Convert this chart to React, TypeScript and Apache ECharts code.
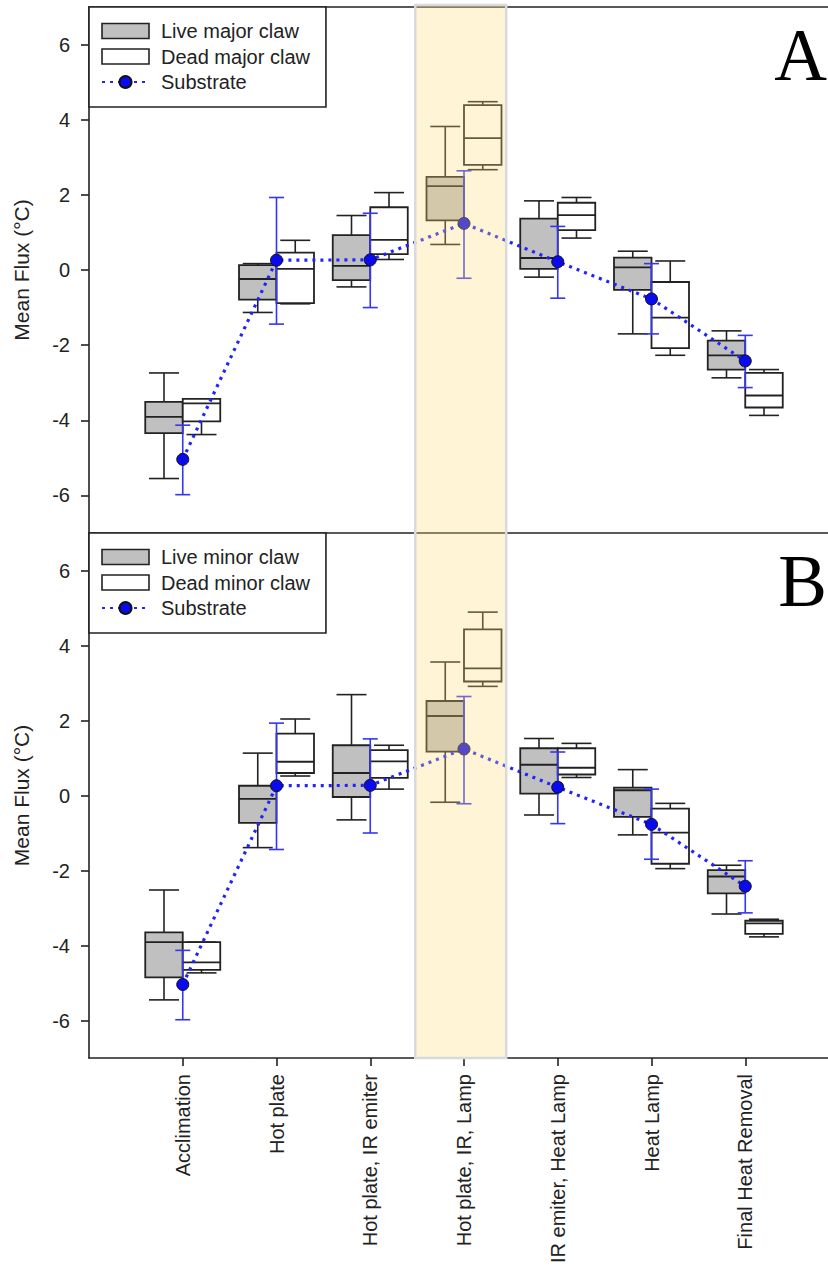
import React, { useEffect, useRef } from "react";
import * as echarts from "echarts";

const categories = [
  "Acclimation",
  "Hot plate",
  "Hot plate, IR emiter",
  "Hot plate, IR, Lamp",
  "IR emiter, Heat Lamp",
  "Heat Lamp",
  "Final Heat Removal",
];

// [min, q1, median, q3, max]
const liveMajor = [
  [-5.55, -4.34, -3.91, -3.51, -2.74],
  [-1.13, -0.79, -0.24, 0.13, 0.17],
  [-0.45, -0.27, 0.11, 0.93, 1.45],
  [0.68, 1.32, 2.23, 2.48, 3.82],
  [-0.19, 0.03, 0.32, 1.37, 1.84],
  [-1.7, -0.53, 0.07, 0.33, 0.5],
  [-2.87, -2.65, -2.27, -1.88, -1.62],
];
const deadMajor = [
  [-4.38, -4.03, -3.55, -3.43, -3.43],
  [-0.9, -0.88, 0.03, 0.46, 0.79],
  [0.28, 0.42, 0.8, 1.67, 2.06],
  [2.67, 2.8, 3.51, 4.39, 4.48],
  [0.85, 1.06, 1.46, 1.79, 1.93],
  [-2.27, -2.08, -1.27, -0.32, 0.24],
  [-3.87, -3.66, -3.34, -2.74, -2.65],
];
const liveMinor = [
  [-5.45, -4.85, -3.91, -3.65, -2.52],
  [-1.39, -0.73, -0.09, 0.26, 1.13],
  [-0.65, -0.04, 0.6, 1.34, 2.69],
  [-0.18, 1.17, 2.12, 2.52, 3.56],
  [-0.52, 0.05, 0.82, 1.26, 1.52],
  [-1.05, -0.57, 0.14, 0.21, 0.69],
  [-3.16, -2.61, -2.16, -1.99, -1.86],
];
const deadMinor = [
  [-4.73, -4.65, -4.45, -3.91, -3.91],
  [0.52, 0.6, 0.9, 1.65, 2.04],
  [0.17, 0.47, 0.91, 1.21, 1.34],
  [2.91, 3.04, 3.39, 4.43, 4.89],
  [0.48, 0.56, 0.74, 1.26, 1.39],
  [-1.95, -1.82, -0.99, -0.35, -0.21],
  [-3.77, -3.69, -3.41, -3.34, -3.3],
];

const substrateMean = [-5.04, 0.26, 0.27, 1.24, 0.22, -0.77, -2.42];
const substrateHigh = [-4.13, 1.93, 1.51, 2.64, 1.16, 0.17, -1.74];
const substrateLow = [-5.98, -1.44, -1.0, -0.22, -0.75, -1.7, -3.13];

const yTicks = [-6, -4, -2, 0, 2, 4, 6];
const xTicks = [1, 2, 3, 4, 5, 6, 7];
const highlightRange = [3.48, 4.45];

const FONT = "'Liberation Sans', Arial, sans-serif";
const SERIF = "'Liberation Serif', 'Times New Roman', serif";
const INK = "#222";
const BOX_W = 0.4;
const CAP_W = 0.32;
const ERR_CAP_W = 0.16;

function boxData(arr: number[][]) {
  return arr.map((b, i) => [i + 1, ...b]);
}

function makeBoxRenderer(fill: string, side: number) {
  return (params: any, api: any) => {
    const x = api.value(0);
    const mn = api.value(1);
    const q1 = api.value(2);
    const md = api.value(3);
    const q3 = api.value(4);
    const mx = api.value(5);
    const w = api.size([BOX_W, 0])[0];
    const capW = api.size([CAP_W, 0])[0];
    const cx = api.coord([x, 0])[0];
    const left = side < 0 ? cx - w : cx;
    const mid = left + w / 2;
    const y = (v: number) => api.coord([x, v])[1];
    const ls = { stroke: INK, lineWidth: 1.6 };
    return {
      type: "group",
      children: [
        { type: "line", shape: { x1: mid, y1: y(q3), x2: mid, y2: y(mx) }, style: ls },
        { type: "line", shape: { x1: mid, y1: y(q1), x2: mid, y2: y(mn) }, style: ls },
        { type: "line", shape: { x1: mid - capW / 2, y1: y(mx), x2: mid + capW / 2, y2: y(mx) }, style: ls },
        { type: "line", shape: { x1: mid - capW / 2, y1: y(mn), x2: mid + capW / 2, y2: y(mn) }, style: ls },
        {
          type: "rect",
          shape: { x: left, y: y(q3), width: w, height: y(q1) - y(q3) },
          style: { fill, stroke: INK, lineWidth: 1.8 },
        },
        { type: "line", shape: { x1: left, y1: y(md), x2: left + w, y2: y(md) }, style: { stroke: INK, lineWidth: 1.8 } },
      ],
    };
  };
}

const errData = substrateMean.map((m, i) => [i + 1, m, substrateLow[i], substrateHigh[i]]);

function renderErr(params: any, api: any) {
  const x = api.value(0);
  const lo = api.coord([x, api.value(2)]);
  const hi = api.coord([x, api.value(3)]);
  const cw = api.size([ERR_CAP_W, 0])[0];
  const st = { stroke: "#3535f5", lineWidth: 1.6 };
  return {
    type: "group",
    children: [
      { type: "line", shape: { x1: lo[0], y1: lo[1], x2: hi[0], y2: hi[1] }, style: st },
      { type: "line", shape: { x1: lo[0] - cw / 2, y1: lo[1], x2: lo[0] + cw / 2, y2: lo[1] }, style: st },
      { type: "line", shape: { x1: hi[0] - cw / 2, y1: hi[1], x2: hi[0] + cw / 2, y2: hi[1] }, style: st },
    ],
  };
}

function renderBand(params: any, api: any) {
  const a = api.coord([api.value(0), -7]);
  const b = api.coord([api.value(1), -7]);
  const panelH = api.size([0, 14])[1];
  const top = api.coord([api.value(0), 7])[1] - panelH - 3;
  return {
    type: "rect",
    shape: { x: a[0], y: top, width: b[0] - a[0], height: a[1] - top },
    style: { fill: "rgba(255, 218, 115, 0.3)", stroke: "#d9dae0", lineWidth: 2.5 },
  };
}

const axisLineStyle = { color: INK, width: 1.6 };

function yAxisFor(gridIndex: number) {
  return {
    gridIndex,
    type: "value",
    min: -7,
    max: 7,
    axisLine: { show: true, onZero: false, lineStyle: axisLineStyle },
    axisTick: { show: true, length: 8, customValues: yTicks, lineStyle: axisLineStyle },
    axisLabel: { customValues: yTicks, fontSize: 20, margin: 19, color: INK, fontFamily: FONT },
    splitLine: { show: false },
    name: "Mean Flux (°C)",
    nameLocation: "middle",
    nameRotate: 90,
    nameGap: 57,
    nameTextStyle: { fontSize: 21, color: INK, fontFamily: FONT },
  };
}

function legendFor(top: number, live: string, dead: string) {
  return {
    left: 89,
    top,
    orient: "vertical",
    padding: [14, 16, 15, 12],
    itemGap: 5.5,
    itemWidth: 47,
    itemHeight: 15,
    borderColor: INK,
    borderWidth: 1.6,
    borderRadius: 0,
    backgroundColor: "#fff",
    selectedMode: false,
    textStyle: { fontSize: 20, lineHeight: 20, color: INK, fontFamily: FONT, padding: [0, 0, 0, 7] },
    data: [
      { name: live, icon: "rect", itemStyle: { color: "#c0c0c0", borderColor: INK, borderWidth: 1.6 } },
      { name: dead, icon: "rect", itemStyle: { color: "#ffffff", borderColor: INK, borderWidth: 1.6 } },
      { name: "Substrate" },
    ],
  };
}

function substrateSeries(idx: number) {
  return {
    name: "Substrate",
    type: "line",
    xAxisIndex: idx,
    yAxisIndex: idx,
    data: substrateMean.map((m, i) => [i + 1, m]),
    symbol: "circle",
    symbolSize: 12,
    itemStyle: { color: "#0a0aee", borderColor: "#111", borderWidth: 1 },
    lineStyle: { color: "#2222ff", width: 3.2, type: [3, 5] },
    z: 5,
  };
}

export default function App() {
  const ref = useRef<HTMLDivElement>(null);
  useEffect(() => {
    if (!ref.current) return;
    const chart = echarts.init(ref.current, null, { renderer: "svg" });
    chart.setOption({
      animation: false,
      backgroundColor: "#fff",
      grid: [
        { left: 89, top: 7, width: 750, height: 526, show: false, outerBoundsMode: "none", containLabel: false },
        { left: 89, top: 533, width: 750, height: 525, show: false, outerBoundsMode: "none", containLabel: false },
      ],
      xAxis: [
        {
          gridIndex: 0,
          type: "value",
          min: 0,
          max: 8,
          axisLine: { show: true, onZero: false, lineStyle: axisLineStyle },
          axisTick: { show: false },
          axisLabel: { show: false },
          splitLine: { show: false },
        },
        {
          gridIndex: 1,
          type: "value",
          min: 0,
          max: 8,
          axisLine: { show: true, onZero: false, lineStyle: axisLineStyle },
          axisTick: { show: true, length: 8, customValues: xTicks, lineStyle: axisLineStyle },
          axisLabel: {
            customValues: xTicks,
            rotate: 90,
            margin: 16,
            fontSize: 20,
            color: INK,
            fontFamily: FONT,
            formatter: (v: number) => categories[Math.round(v) - 1] || "",
          },
          splitLine: { show: false },
        },
        {
          gridIndex: 0,
          type: "value",
          position: "top",
          min: 0,
          max: 8,
          axisLine: { show: true, onZero: false, lineStyle: axisLineStyle },
          axisTick: { show: false },
          axisLabel: { show: false },
          splitLine: { show: false },
        },
      ],
      yAxis: [yAxisFor(0), yAxisFor(1)],
      legend: [
        legendFor(7, "Live major claw", "Dead major claw"),
        legendFor(533, "Live minor claw", "Dead minor claw"),
      ],
      graphic: [
        {
          type: "text",
          x: 827,
          y: 55,
          style: { text: "A", fontSize: 73, fontFamily: SERIF, fill: "#000", align: "right", verticalAlign: "middle" },
        },
        {
          type: "text",
          x: 827,
          y: 581,
          style: { text: "B", fontSize: 73, fontFamily: SERIF, fill: "#000", align: "right", verticalAlign: "middle" },
        },
      ],
      series: [
        {
          name: "Live major claw",
          type: "custom",
          xAxisIndex: 0,
          yAxisIndex: 0,
          data: boxData(liveMajor),
          renderItem: makeBoxRenderer("#c0c0c0", -1),
          itemStyle: { color: "#c0c0c0" },
          z: 2,
        },
        {
          name: "Dead major claw",
          type: "custom",
          xAxisIndex: 0,
          yAxisIndex: 0,
          data: boxData(deadMajor),
          renderItem: makeBoxRenderer("#ffffff", 1),
          itemStyle: { color: "#ffffff" },
          z: 2,
        },
        { type: "custom", xAxisIndex: 0, yAxisIndex: 0, data: errData, renderItem: renderErr, z: 4 },
        substrateSeries(0),
        {
          name: "Live minor claw",
          type: "custom",
          xAxisIndex: 1,
          yAxisIndex: 1,
          data: boxData(liveMinor),
          renderItem: makeBoxRenderer("#c0c0c0", -1),
          itemStyle: { color: "#c0c0c0" },
          z: 2,
        },
        {
          name: "Dead minor claw",
          type: "custom",
          xAxisIndex: 1,
          yAxisIndex: 1,
          data: boxData(deadMinor),
          renderItem: makeBoxRenderer("#ffffff", 1),
          itemStyle: { color: "#ffffff" },
          z: 2,
        },
        { type: "custom", xAxisIndex: 1, yAxisIndex: 1, data: errData, renderItem: renderErr, z: 4 },
        substrateSeries(1),
        {
          type: "custom",
          xAxisIndex: 1,
          yAxisIndex: 1,
          data: [highlightRange],
          renderItem: renderBand,
          clip: false,
          silent: true,
          z: 20,
        },
      ],
    });
    return () => chart.dispose();
  }, []);
  return (
    <div
      ref={ref}
      style={{ position: "absolute", left: 0, top: 0, width: 828, height: 1275, overflow: "hidden" }}
    />
  );
}
